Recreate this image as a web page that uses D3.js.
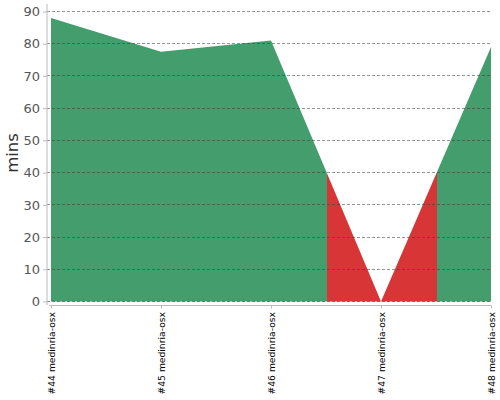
<!DOCTYPE html>
<html><head><meta charset="utf-8">
<script src="https://cdn.jsdelivr.net/npm/d3@7"></script>
<style>body{margin:0;background:#fff}svg{display:block}text{font-family:"DejaVu Sans",Verdana,sans-serif}</style>
</head><body><svg id="c" width="500" height="400"></svg>
<script>
const categories = ["#44 medinria-osx","#45 medinria-osx","#46 medinria-osx","#47 medinria-osx","#48 medinria-osx"];
const values = [88, 77.5, 81, 0, 79];
const threshold = [40];
const yTicks = [0,10,20,30,40,50,60,70,80,90];

const svg = d3.select("#c");
const x = d3.scalePoint().domain(categories).range([51, 491]);
const y = d3.scaleLinear().domain([0, 90]).range([301.5, 11.5]);
const th = threshold[0];

// gradient by x: colour segments split at threshold crossings
const stops = [];
const X0 = x.range()[0], X1 = x.range()[1];
let prevAbove = values[0] >= th;
stops.push({o:0, c: prevAbove});
for (let i = 1; i < values.length; i++) {
  const a = values[i-1], b = values[i];
  const above = b >= th;
  if (above !== prevAbove) {
    const t = (a - th) / (a - b);
    const xa = x(categories[i-1]), xb = x(categories[i]);
    const xc = xa + t * (xb - xa);
    const o = (xc - X0) / (X1 - X0);
    stops.push({o, c: prevAbove});
    stops.push({o, c: above});
    prevAbove = above;
  }
}
stops.push({o:1, c: prevAbove});
const grad = svg.append("defs").append("linearGradient").attr("id","g")
  .attr("gradientUnits","userSpaceOnUse").attr("x1",X0).attr("x2",X1).attr("y1",0).attr("y2",0);
grad.selectAll("stop").data(stops).join("stop")
  .attr("offset", d => d.o).attr("stop-color", d => d.c ? "#449d6c" : "#d83536");

const area = d3.area().x((d,i) => x(categories[i])).y0(y(0)).y1(d => y(d));
svg.append("path").datum(values).attr("d", area).attr("fill","url(#g)");

// gridlines
svg.append("g").selectAll("line").data(yTicks).join("line")
  .attr("x1", 47).attr("x2", 491).attr("y1", d => y(d)).attr("y2", d => y(d))
  .attr("stroke","rgba(60,60,60,0.55)").attr("stroke-width",1).attr("stroke-dasharray","3,2")
  .attr("shape-rendering","crispEdges");

// y axis
const ya = svg.append("g").attr("transform","translate(47,0)")
  .call(d3.axisLeft(y).tickValues(yTicks).tickSize(4).tickPadding(3));
ya.select(".domain").attr("d","M0,4V305").attr("stroke","#bbb");
ya.selectAll(".tick line").attr("stroke","#bbb");
ya.selectAll(".tick text").attr("font-size",13).attr("fill","#555").attr("font-family","DejaVu Sans");

// x axis
const xa = svg.append("g").attr("transform","translate(0,305.5)")
  .call(d3.axisBottom(x).tickSize(3).tickSizeOuter(0));
xa.select(".domain").attr("d","M49,0H491").attr("stroke","#bbb");
xa.selectAll(".tick line").attr("stroke","#bbb");
xa.selectAll(".tick text").attr("font-size",9.2).attr("fill","#000").attr("font-family","DejaVu Sans")
  .attr("text-anchor","end").attr("transform","rotate(-90)").attr("x",-6.5).attr("y",0).attr("dy","0.35em");

svg.append("text").attr("transform","translate(18,153) rotate(-90)").attr("text-anchor","middle")
  .attr("font-size",16.5).attr("fill","#333").text("mins");
</script></body></html>
